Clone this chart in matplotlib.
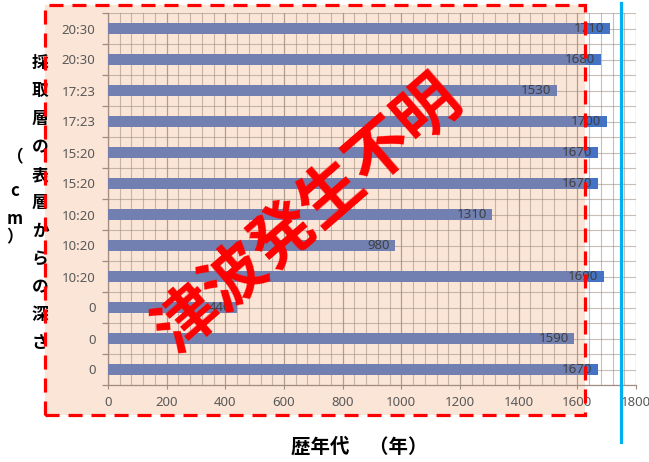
import matplotlib
matplotlib.use("Agg")
import matplotlib.pyplot as plt
from matplotlib.patches import Rectangle
from matplotlib.lines import Line2D
from matplotlib.ticker import MultipleLocator

plt.rcParams['font.family'] = ['Noto Sans', 'Noto Sans CJK JP', 'DejaVu Sans']

# data (top to bottom)
depth_labels = ["20:30", "20:30", "17:23", "17:23", "15:20", "15:20",
                "10:20", "10:20", "10:20", "0", "0", "0"]
years = [1710, 1680, 1530, 1700, 1670, 1670, 1310, 980, 1690, 440, 1590, 1670]
x_ticks = [0, 200, 400, 600, 800, 1000, 1200, 1400, 1600, 1800]
ylabel_chars = list("採取層の表層からの深さ")
unit_chars = ["（", "c", "m", "）"]
xlabel = "歴年代　（年）"
stamp = "津波発生不明"

W, H = 649, 462
fig = plt.figure(figsize=(W / 100, H / 100), dpi=100)
fig.patch.set_facecolor("white")

def fx(px):
    return px / W

def fy(py):
    return 1 - py / H

ax = fig.add_axes([fx(108), fy(385), fx(636) - fx(108), fy(13) - fy(385)])
ax.set_facecolor("none")

# overlay region (figure pixels)
ox0, oy0, ox1, oy1 = 45, 5, 585, 415
peach = Rectangle((fx(ox0), fy(oy1)), fx(ox1) - fx(ox0), fy(oy0) - fy(oy1),
                  transform=fig.transFigure, facecolor="#FBE5D6", edgecolor="none",
                  zorder=-1)
fig.patches.append(peach)

pos = list(range(len(years)))
bars = ax.barh(pos, years, height=0.38, color="#4472C4", zorder=3)
bars_in = ax.barh(pos, years, height=0.38, color="#7180B0", zorder=3.5)
clip_rect = Rectangle((fx(ox0), fy(oy1)), fx(ox1) - fx(ox0), fy(oy0) - fy(oy1),
                      transform=fig.transFigure)
for b in bars_in:
    b.set_clip_path(clip_rect)

for p, v in zip(pos, years):
    ax.annotate(str(v), xy=(v, p), xytext=(-4, 0), textcoords="offset points",
                ha="right", va="center", fontsize=9.5, color="#404040", zorder=5)

ax.set_xlim(0, 1800)
ax.set_ylim(len(years) - 0.5, -0.5)
ax.set_xticks(x_ticks)
ax.set_xticklabels([str(t) for t in x_ticks])
ax.xaxis.set_minor_locator(MultipleLocator(40))
ax.set_yticks(pos)
ax.set_yticklabels(depth_labels)
ax.yaxis.set_minor_locator(MultipleLocator(0.5))

ax.set_axisbelow(True)
ax.grid(True, which="minor", color="#9A8A80", alpha=0.55, lw=0.8)
ax.grid(True, which="major", axis="x", color="#806E62", alpha=0.6, lw=0.9)
ax.grid(True, which="major", axis="y", color="#9A8A80", alpha=0.55, lw=0.8)

ax.tick_params(axis="y", which="major", length=0, pad=9, labelsize=9.5, labelcolor="#595959")
ax.tick_params(axis="y", which="minor", length=4, color="#A08C80", width=0.9)
ax.tick_params(axis="x", which="major", length=3, pad=5, labelsize=9.5, labelcolor="#595959",
               color="#A08C80")
ax.tick_params(axis="x", which="minor", length=0)
for s in ["top", "right"]:
    ax.spines[s].set_visible(False)
for s in ["left", "bottom"]:
    ax.spines[s].set_color("#A08C80")
    ax.spines[s].set_linewidth(0.9)

# red dashed border
border = Rectangle((fx(ox0), fy(oy1)), fx(ox1) - fx(ox0), fy(oy0) - fy(oy1),
                   transform=fig.transFigure, fill=False, edgecolor="#FF0000",
                   lw=2.3, linestyle=(0, (4.4, 2.8)), zorder=10)
fig.patches.append(border)

# blue vertical line
fig.add_artist(Line2D([fx(621), fx(621)], [fy(3), fy(442)], transform=fig.transFigure,
                      color="#00B0F0", lw=2.3, zorder=10))

# stamp text
fig.text(fx(308), fy(215), stamp, rotation=41, ha="center", va="center",
         fontsize=46, fontweight="bold", color="#FF0000", family=["Noto Sans CJK JP"],
         zorder=11, rotation_mode="anchor")

# y label (vertical)
for i, ch in enumerate(ylabel_chars):
    fig.text(fx(40), fy(63 + 28 * i), ch, ha="center", va="center", fontsize=12,
             fontweight="bold", family=["Noto Sans CJK JP"], color="black")
unit_y = [157, 191, 219, 237]
for ch, yy in zip(unit_chars, unit_y):
    fig.text(fx(15), fy(yy), ch, ha="center", va="center", fontsize=12,
             fontweight="bold", family=["Noto Sans CJK JP"], color="black")

# x label
fig.text(fx(359), fy(447), xlabel, ha="center", va="center", fontsize=14,
         fontweight="bold", family=["Noto Sans CJK JP"], color="black")

fig.savefig("out.png", dpi=100)
